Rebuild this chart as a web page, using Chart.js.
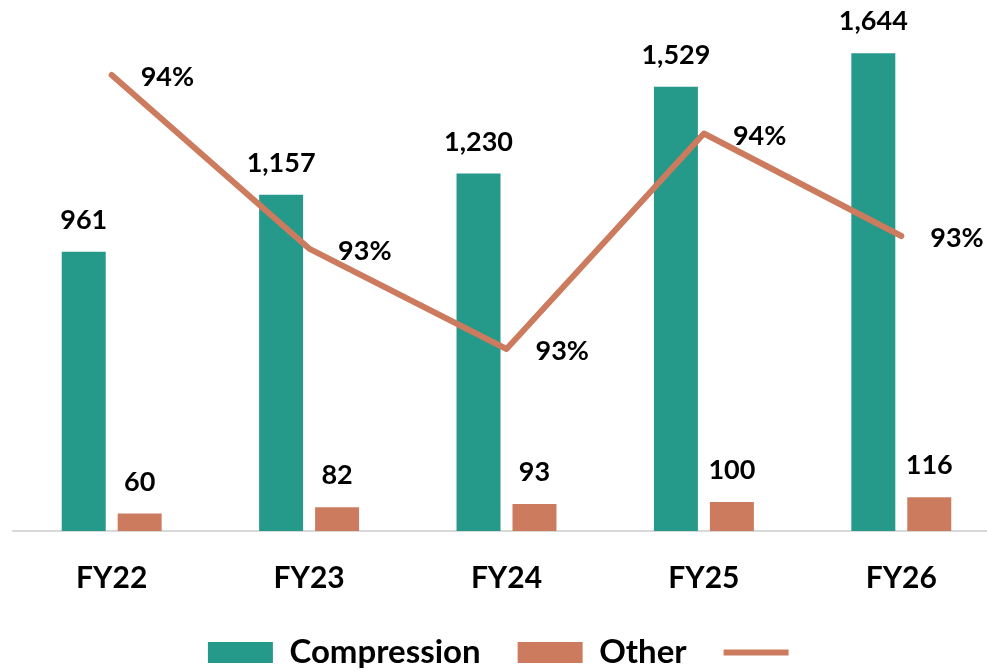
<!DOCTYPE html>
<html>
<head>
<meta charset="utf-8">
<script src="https://cdn.jsdelivr.net/npm/chart.js@4/dist/chart.umd.min.js"></script>
<style>
html,body{margin:0;padding:0;background:#fff;overflow:hidden}
#wrap{width:987px;height:672px;overflow:hidden}
</style>
</head>
<body>
<div id="wrap"><canvas id="chart" width="1000" height="679"></canvas></div>
<script>

/* DATA */

const years=["FY22","FY23","FY24","FY25","FY26"]
const compression=[961,1157,1230,1529,1644]
const other=[60,82,93,100,116]
const compressionShare=[94.18,93.35,92.87,93.9,93.41]

const teal="#25998a"
const salmon="#cc7b5e"
const fontFamily="Lato, 'Open Sans', sans-serif"


/* VALUE LABELS */

const valueLabels={
id:"valueLabels",
afterDatasetsDraw(chart){

const ctx=chart.ctx
ctx.save()
ctx.fillStyle="#000"
ctx.font="bold 27px "+fontFamily
ctx.textBaseline="alphabetic"

/* bars: number above each bar */
;[0,1].forEach(ds=>{
const meta=chart.getDatasetMeta(ds)
const values=chart.data.datasets[ds].data
meta.data.forEach((bar,i)=>{
ctx.textAlign="center"
ctx.fillText(values[i].toLocaleString("en-US"),bar.x,bar.y-23)
})
})

/* line: percent to the right of each point */
const lineMeta=chart.getDatasetMeta(2)
lineMeta.data.forEach((pt,i)=>{
ctx.textAlign="left"
ctx.fillText(Math.round(compressionShare[i])+"%",pt.x+29,pt.y+11)
})

ctx.restore()
}
}


/* CHART */

const ctx=document.getElementById("chart").getContext("2d")

new Chart(ctx,{

data:{
labels:years,
datasets:[
{
type:"bar",
label:"Compression",
data:compression,
backgroundColor:teal,
borderWidth:0,
yAxisID:"y",
categoryPercentage:0.567,
barPercentage:0.786
},
{
type:"bar",
label:"Other",
data:other,
backgroundColor:salmon,
borderWidth:0,
yAxisID:"y",
categoryPercentage:0.567,
barPercentage:0.786
},
{
type:"line",
label:"",
data:compressionShare,
borderColor:salmon,
backgroundColor:salmon,
borderWidth:6,
borderCapStyle:"round",
borderJoinStyle:"round",
pointRadius:0,
tension:0,
yAxisID:"y2",
order:-1
}
]
},

options:{
responsive:false,
animation:false,
layout:{padding:{top:8,left:13,right:0,bottom:0}},

plugins:{
tooltip:{enabled:false},
legend:{
position:"bottom",
labels:{
color:"#000",
font:{family:fontFamily,size:33,weight:"bold"},
usePointStyle:true,
pointStyleWidth:65,
boxHeight:21,
padding:37,
sort:(a,b)=>a.datasetIndex-b.datasetIndex,
generateLabels(chart){
const items=Chart.defaults.plugins.legend.labels.generateLabels(chart)
items.forEach(it=>{
it.pointStyle=it.datasetIndex===2?"line":"rect"
})
return items
}
}
}
},

scales:{
x:{
grid:{display:false,drawTicks:false},
border:{display:true,color:"#d9d9d9",width:2},
ticks:{
color:"#000",
padding:29,
font:{family:fontFamily,size:30,weight:"bold",lineHeight:1.2}
},
afterFit(scale){scale.height=68}
},
y:{
display:false,
min:0,
max:1800
},
y2:{
display:false,
min:92,
max:94.5
}
}
},

plugins:[valueLabels]

})

</script>
</body>
</html>
